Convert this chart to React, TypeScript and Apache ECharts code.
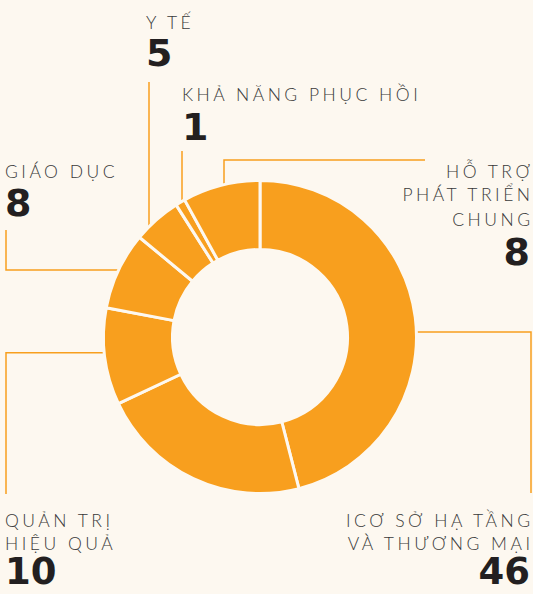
import React, { useEffect, useRef } from "react";
import * as echarts from "echarts";

// ---- data ----
const categories = [
  "Cơ sở hạ tầng và thương mại",
  "Khác",
  "Quản trị hiệu quả",
  "Giáo dục",
  "Y tế",
  "Khả năng phục hồi",
  "Hỗ trợ phát triển chung",
];
const values = [46, 22, 10, 8, 5, 1, 8];
const labelTexts: string[][] = [
  ["ICƠ SỞ HẠ TẦNG", "VÀ THƯƠNG MẠI"],
  [],
  ["QUẢN TRỊ", "HIỆU QUẢ"],
  ["GIÁO DỤC"],
  ["Y TẾ"],
  ["KHẢ NĂNG PHỤC HỒI"],
  ["HỖ TRỢ", "PHÁT TRIỂN", "CHUNG"],
];

// ---- layout / style ----
const BG = "#fdf8f0";
const ORANGE = "#f89f1e";
const TEXT = "#3a3a3a";
const NUM = "#231f20";
const LABEL_FONT = "Lato";
const NUM_FONT = "'DejaVu Sans'";

type Layout = {
  x: number;
  align: "left" | "right";
  lineYs: number[];
  numY: number;
  numSize: number;
  leader: number[][];
} | null;

const layouts: Layout[] = [
  { x: 530, align: "right", lineYs: [519, 542], numY: 570, numSize: 37, leader: [[412, 332], [531, 332], [531, 493]] },
  null,
  { x: 5, align: "left", lineYs: [519, 542], numY: 570, numSize: 37, leader: [[108, 352.7], [6, 352.7], [6, 494]] },
  { x: 5, align: "left", lineYs: [170], numY: 202, numSize: 38, leader: [[123, 270], [6, 270], [6, 230]] },
  { x: 146, align: "left", lineYs: [21], numY: 52, numSize: 38, leader: [[149, 231], [149, 82]] },
  { x: 182, align: "left", lineYs: [93], numY: 125.5, numSize: 38, leader: [[182, 206], [182, 151]] },
  { x: 530, align: "right", lineYs: [170.5, 193.5, 218.5], numY: 251, numSize: 38, leader: [[224, 189], [224, 160], [425, 160]] },
];

export default function App() {
  const ref = useRef<HTMLDivElement>(null);
  useEffect(() => {
    if (!ref.current) return;
    const chart = echarts.init(ref.current, undefined, { renderer: "svg" });
    const graphics: any[] = [];
    layouts.forEach((l, i) => {
      if (!l) return;
      graphics.push({
        type: "polyline",
        z: 1,
        shape: { points: l.leader },
        style: { stroke: ORANGE, lineWidth: 1.5, fill: null },
        silent: true,
      });
      const lx = l.align === "right" ? l.x + 3.5 : l.x;
      labelTexts[i].forEach((t, j) => {
        graphics.push({
          type: "text",
          z: 3,
          x: lx,
          y: l.lineYs[j] + 1,
          silent: true,
          style: {
            text: t,
            fontSize: 17.5,
            fontFamily: LABEL_FONT,
            fontWeight: 300,
            fill: TEXT,
            textAlign: l.align,
            textVerticalAlign: "middle",
          },
        });
      });
      graphics.push({
        type: "text",
        z: 3,
        x: l.x,
        y: l.numY + 1,
        silent: true,
        style: {
          text: String(values[i]),
          fontSize: l.numSize,
          fontFamily: NUM_FONT,
          fontWeight: "bold",
          fill: NUM,
          textAlign: l.align,
          textVerticalAlign: "middle",
        },
      });
    });

    chart.setOption({
      animation: false,
      backgroundColor: BG,
      graphic: { elements: graphics },
      series: [
        {
          type: "pie",
          z: 2,
          center: [260, 337],
          radius: [87.5, 156.5],
          startAngle: 90,
          clockwise: true,
          silent: true,
          label: { show: false },
          labelLine: { show: false },
          emphasis: { disabled: true },
          itemStyle: { color: ORANGE, borderColor: BG, borderWidth: 3 },
          data: categories.map((name, i) => ({ name, value: values[i] })),
        },
      ],
    });
    return () => chart.dispose();
  }, []);
  return (
    <>
      <style>{`text[style*="Lato"], text[font-family*="Lato"] { letter-spacing: 3.5px; }`}</style>
      <div
        ref={ref}
        style={{ position: "fixed", left: 0, top: 0, width: 533, height: 594, background: BG }}
      />
    </>
  );
}
